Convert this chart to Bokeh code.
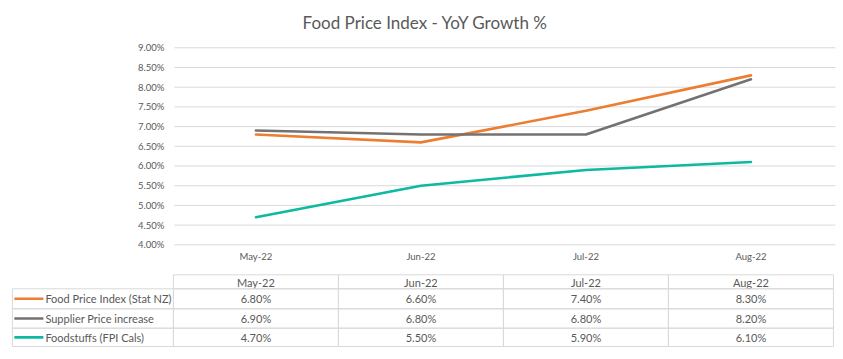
from bokeh.plotting import figure
from bokeh.models import Range1d, ColumnDataSource
from bokeh.embed import file_html
from bokeh.resources import INLINE
from bokeh.core.properties import value

# ---------------- data ----------------
months = ["May-22", "Jun-22", "Jul-22", "Aug-22"]
series_names = ["Food Price Index (Stat NZ)", "Supplier Price increase", "Foodstuffs (FPI Cals)"]
food_price_index = [6.80, 6.60, 7.40, 8.30]
supplier_price = [6.90, 6.80, 6.80, 8.20]
foodstuffs = [4.70, 5.50, 5.90, 6.10]
y_ticks = [4.0, 4.5, 5.0, 5.5, 6.0, 6.5, 7.0, 7.5, 8.0, 8.5, 9.0]
title_text = "Food Price Index - YoY Growth %"

series_values = [food_price_index, supplier_price, foodstuffs]
colors = ["#ED7D31", "#767171", "#0DB9A0"]
TXT = "#595959"
GRID = "#D9D9D9"
FONT = "Lato"

# ---------------- layout constants ----------------
W, H = 843, 359
# x: one unit per month column; column i spans [i, i+1]; label column to the left
X_START, X_END = -1.048, 4.061
GRID_X0, GRID_X1 = 0.006, 4.012
LABEL_COL_LEFT = -0.976
# y (primary): percent scale of the chart, extended to cover the whole canvas
Y_START, Y_END = 1.089, 10.2
# y (table): canvas pixels from top
row_edges = [274.3, 288.3, 308.3, 327.7, 346]
month_label_y = 256
title_y = 21.5

p = figure(width=W, height=H, x_range=Range1d(X_START, X_END), y_range=Range1d(Y_START, Y_END),
           output_backend="svg", toolbar_location=None,
           min_border_left=0, min_border_right=0, min_border_top=0, min_border_bottom=0)
p.extra_y_ranges = {"px": Range1d(H, 0)}
p.outline_line_color = None
p.axis.visible = False
p.grid.visible = False
p.background_fill_color = "white"

n = len(months)
xc = [i + 0.5 for i in range(n)]

# title
p.text(x=[1.527], y=[title_y], y_range_name="px", text=[title_text],
       text_font=value(FONT), text_font_size="17px", text_color=TXT,
       text_align="center", text_baseline="middle")

# gridlines + y tick labels
p.segment(x0=[GRID_X0] * len(y_ticks), x1=[GRID_X1] * len(y_ticks), y0=y_ticks, y1=y_ticks,
          line_color=GRID, line_width=1)
p.text(x=[-0.055] * len(y_ticks), y=y_ticks, text=[f"{v:.2f}%" for v in y_ticks],
       text_font=value(FONT), text_font_size="9.5px", text_color=TXT,
       text_align="right", text_baseline="middle")

# month labels under the chart
p.text(x=xc, y=[month_label_y] * n, y_range_name="px", text=months,
       text_font=value(FONT), text_font_size="9.5px", text_color=TXT,
       text_align="center", text_baseline="middle")

# series lines
for vals, col in zip(series_values, colors):
    src = ColumnDataSource(dict(x=xc, y=vals))
    p.line("x", "y", source=src, line_color=col, line_width=2.6, line_cap="round", line_join="round")

# ---------------- data table ----------------
p.quad(left=list(range(n)), right=[i + 1 for i in range(n)], top=[row_edges[0]] * n,
       bottom=[row_edges[1]] * n, y_range_name="px", fill_alpha=0, line_color=GRID, line_width=1)
p.text(x=xc, y=[(row_edges[0] + row_edges[1]) / 2 + 0.5] * n, y_range_name="px", text=months,
       text_font=value(FONT), text_font_size="11px", text_color=TXT,
       text_align="center", text_baseline="middle")

for r, (name, vals, col) in enumerate(zip(series_names, series_values, colors)):
    top, bot = row_edges[r + 1], row_edges[r + 2]
    mid = (top + bot) / 2
    p.quad(left=[LABEL_COL_LEFT] + list(range(n)), right=[0] + [i + 1 for i in range(n)],
           top=[top] * (n + 1), bottom=[bot] * (n + 1), y_range_name="px",
           fill_alpha=0, line_color=GRID, line_width=1)
    p.text(x=xc, y=[mid] * n, y_range_name="px", text=[f"{v:.2f}%" for v in vals],
           text_font=value(FONT), text_font_size="11px", text_color=TXT,
           text_align="center", text_baseline="middle")
    p.segment(x0=[LABEL_COL_LEFT + 0.012], y0=[mid], x1=[LABEL_COL_LEFT + 0.188], y1=[mid],
              y_range_name="px", line_color=col, line_width=2.6)
    p.text(x=[LABEL_COL_LEFT + 0.2], y=[mid], y_range_name="px", text=[name],
           text_font=value(FONT), text_font_size="11px", text_color=TXT,
           text_align="left", text_baseline="middle")

open("out.html", "w").write(file_html(p, INLINE))
